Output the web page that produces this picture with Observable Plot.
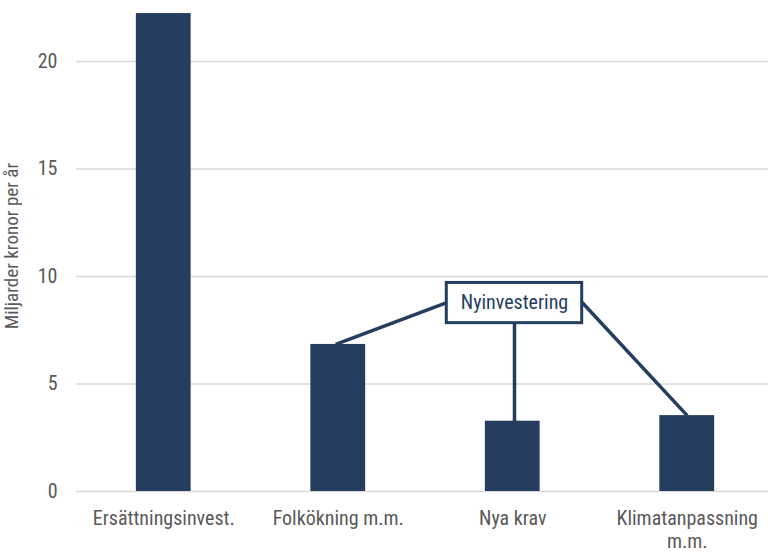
<!DOCTYPE html>
<html>
<head>
<meta charset="utf-8">
<script src="https://cdn.jsdelivr.net/npm/d3@7"></script>
<script src="https://cdn.jsdelivr.net/npm/@observablehq/plot@0.6"></script>
<style>
  html, body { margin: 0; padding: 0; background: #fff; }
  #chart svg { display: block; }
</style>
</head>
<body>
<div id="chart"></div>
<script>
// ---- data ----
const categories = ["Ersättningsinvest.", "Folkökning m.m.", "Nya krav", "Klimatanpassning m.m."];
const tickLabels = ["Ersättningsinvest.", "Folkökning m.m.", "Nya krav", "Klimatanpassning\nm.m."];
const values = [22.23, 6.84, 3.27, 3.53];
const yTicks = [0, 5, 10, 15, 20];
const yLabel = "Miljarder kronor per år";

// annotation (in data units: x = category index, y = value)
const annotationText = "Nyinvestering";
const boxXExtent = [1.622, 2.398];
const boxYExtent = [7.83, 9.70];
const boxCenter = [2.01, 8.77];
const connectorFrom = [[0.985, 6.84], [2.01, 3.27], [3.0, 3.53]];
const connectorTo = [[1.622, 8.79], [2.01, 7.83], [2.398, 8.79]];

// ---- build ----
const navy = "#253e5f";
const gray = "#595959";
const font = "'Liberation Sans Narrow', 'Roboto Condensed', 'DejaVu Sans Condensed', 'Arial Narrow', sans-serif";
const barHalf = 0.157;

const bars = categories.map((c, i) => ({i, category: c, value: values[i]}));
const links = connectorFrom.map((f, k) => ({x1: f[0], y1: f[1], x2: connectorTo[k][0], y2: connectorTo[k][1]}));

const chart = Plot.plot({
  width: 768,
  height: 552,
  marginLeft: 76,
  marginRight: 0,
  marginTop: 0,
  marginBottom: 61,
  style: {fontFamily: font, fontStretch: "condensed", color: gray, background: "#fff"},
  x: {domain: [-0.5, 3.5], range: [76, 774]},
  y: {domain: [0, 20], range: [491, 61]},
  marks: [
    Plot.gridY(yTicks, {stroke: "#d9d9d9", strokeOpacity: 1, strokeWidth: 1.3}),
    Plot.axisY(yTicks, {tickSize: 0, tickPadding: 19, fontSize: 20, fill: gray, label: null, tickFormat: d => String(d)}),
    Plot.axisX([0, 1, 2, 3], {tickSize: 0, tickPadding: 17, fontSize: 20, fill: gray, label: null, lineHeight: 1.15, tickFormat: i => tickLabels[i]}),
    Plot.text([yLabel], {frameAnchor: "left", textAnchor: "middle", rotate: -90, dx: -65, fontSize: 19, fill: gray}),
    Plot.rectY(bars, {x1: d => d.i - barHalf, x2: d => d.i + barHalf, y: "value", fill: navy}),
    Plot.link(links, {x1: "x1", y1: "y1", x2: "x2", y2: "y2", stroke: navy, strokeWidth: 3.5}),
    Plot.rect([annotationText], {x1: boxXExtent[0], x2: boxXExtent[1], y1: boxYExtent[0], y2: boxYExtent[1], fill: "#fff", stroke: navy, strokeWidth: 3}),
    Plot.text([annotationText], {x: boxCenter[0], y: boxCenter[1], text: d => d, fontSize: 20, fill: navy})
  ]
});
document.getElementById("chart").appendChild(chart);
</script>
</body>
</html>
